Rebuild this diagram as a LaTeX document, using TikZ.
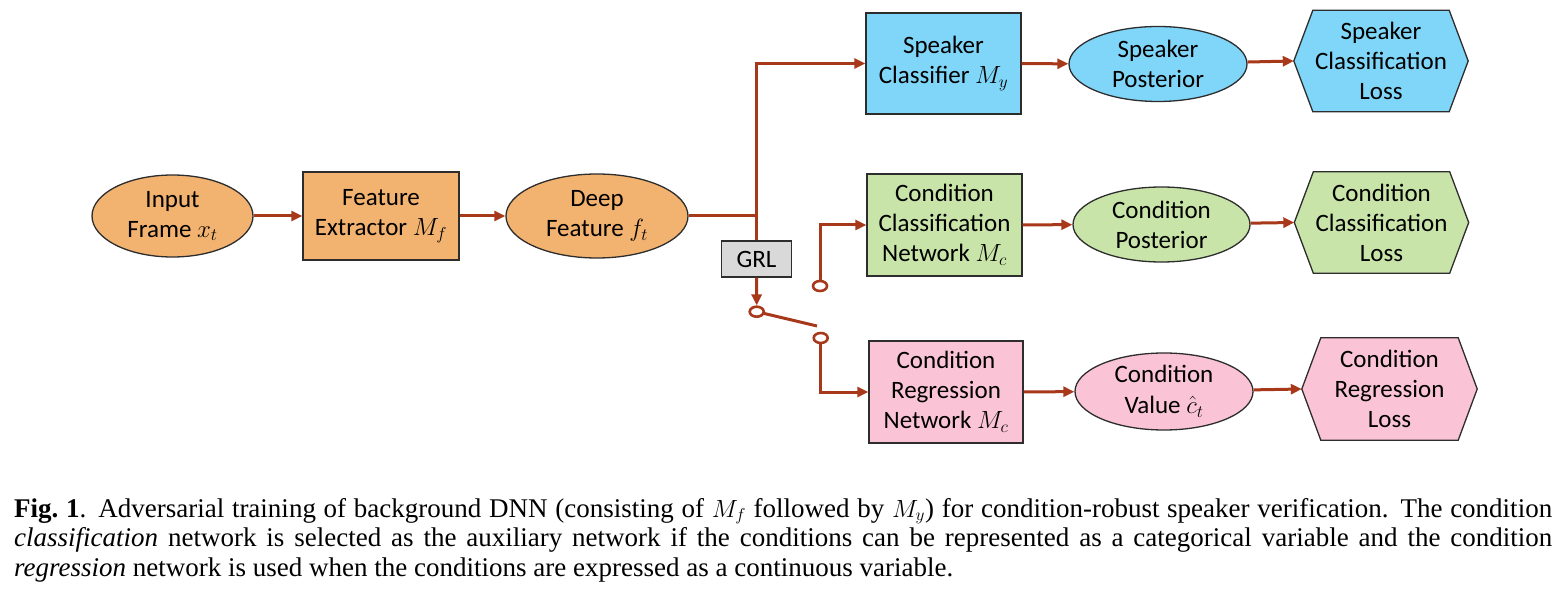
\documentclass[tikz,border=0pt]{standalone}
\usepackage{fontspec}
\setmainfont{Liberation Serif}
\newfontfamily\diagfont{Carlito}
\usetikzlibrary{shapes.geometric,arrows.meta,backgrounds}
\definecolor{arrc}{RGB}{168,56,26}
\definecolor{orangef}{RGB}{242,178,112}
\definecolor{bluef}{RGB}{128,214,248}
\definecolor{greenf}{RGB}{200,228,168}
\definecolor{pinkf}{RGB}{250,196,214}
\definecolor{grayf}{RGB}{217,217,217}
\definecolor{edgec}{RGB}{45,45,45}
\newcommand\drawhex[2]{%
  \path[fill=#2,draw=edgec,line width=1.3pt]
    ([xshift=19pt]#1.north west) -- ([xshift=-19pt]#1.north east) -- (#1.east)
    -- ([xshift=-19pt]#1.south east) -- ([xshift=19pt]#1.south west) -- (#1.west) -- cycle;}
\begin{document}
\begin{tikzpicture}[x=1pt,y=-1pt,
  txt/.style={inner sep=0pt,align=center,font=\diagfont\fontsize{25}{30}\selectfont},
  boxn/.style={txt,rectangle,draw=edgec,line width=1.3pt},
  elln/.style={txt,ellipse,draw=edgec,line width=1.3pt},
  hexn/.style={txt,rectangle,minimum width=174pt,minimum height=101pt},
  conn/.style={draw=arrc,line width=3pt},
  arr/.style={conn,-{Triangle[length=11pt,width=10pt]}},
  swc/.style={ellipse,draw=arrc,line width=2.6pt,fill=white,inner sep=0pt,minimum width=14pt,minimum height=10pt}
]
\useasboundingbox (0,0) rectangle (1565,601);

% left chain
\node[elln,fill=orangef,minimum width=161pt,minimum height=82pt] (in) at (172.5,216) {Input\\Frame $x_t$};
\node[boxn,fill=orangef,minimum width=156pt,minimum height=88pt] (fe) at (381,216) {Feature\\Extractor $M_f$};
\node[elln,fill=orangef,minimum width=182pt,minimum height=84pt] (df) at (597,216) {Deep\\Feature $f_t$};
\node[boxn,fill=grayf,minimum width=70pt,minimum height=36pt] (grl) at (756.5,259) {GRL};

% top row
\node[boxn,fill=bluef,minimum width=155pt,minimum height=101pt] (sc) at (943.5,63.5) {Speaker\\Classifier $M_y$};
\node[elln,fill=bluef,minimum width=178pt,minimum height=75pt] (sp) at (1158,64) {Speaker\\Posterior};
\node[hexn] (sl) at (1381,61) {Speaker\\Classification\\Loss};

% middle row
\node[boxn,fill=greenf,minimum width=155pt,minimum height=102pt] (cc) at (944.5,225) {Condition\\Classification\\Network $M_c$};
\node[elln,fill=greenf,minimum width=177pt,minimum height=75pt] (cp) at (1161.5,224.5) {Condition\\Posterior};
\node[hexn] (cl) at (1381.5,222.5) {Condition\\Classification\\Loss};

% bottom row
\node[boxn,fill=pinkf,minimum width=154pt,minimum height=102pt] (cr) at (946,392) {Condition\\Regression\\Network $M_c$};
\node[elln,fill=pinkf,minimum width=178pt,minimum height=77pt] (cv) at (1164,391.5) {Condition\\[1pt]Value $\hat{c}_t$};
\node[hexn,minimum width=175pt,minimum height=102pt] (rl) at (1389.5,389) {Condition\\Regression\\Loss};

\begin{scope}[on background layer]
\drawhex{sl}{bluef}
\drawhex{cl}{greenf}
\drawhex{rl}{pinkf}
\end{scope}

% switch
\node[swc] (s0) at (756.7,311.7) {};
\node[swc] (s1) at (820,286) {};
\node[swc] (s2) at (820.7,338) {};
\coordinate (swend) at (817,326);

% connectors
\draw[arr] (in) -- (fe);
\draw[arr] (fe) -- (df);
\draw[conn] (df.east) -- (df.east -| grl.north);
\draw[arr] (grl.north) |- (sc.west);
\draw[arr] (grl.south) -- (s0.north);
\begin{scope}[on background layer]
\draw[conn] (s0.center) -- (swend);
\end{scope}
\draw[arr] (s1.north) |- (cc.west);
\draw[arr] (s2.south) |- (cr.west);
\draw[arr] (sc) -- (sp);
\draw[arr] (sp) -- (sl.west);
\draw[arr] (cc) -- (cp);
\draw[arr] (cp) -- (cl.west);
\draw[arr] (cr) -- (cv);
\draw[arr] (cv) -- (rl.west);

% caption
\node[anchor=north west,inner sep=0pt,text width=1538pt,align=justify,font=\fontsize{27}{29.5}\selectfont] (cap) at (14,498)
{\noindent\textbf{Fig.~1}. Adversarial training of background DNN (consisting of $M_f$ followed by $M_y$) for condition-robust speaker verification. The condition\linebreak
\emph{classification} network is selected as the auxiliary network if the conditions can be represented as a categorical variable and the condition\linebreak
\emph{regression} network is used when the conditions are expressed as a continuous variable.};
\end{tikzpicture}
\end{document}
